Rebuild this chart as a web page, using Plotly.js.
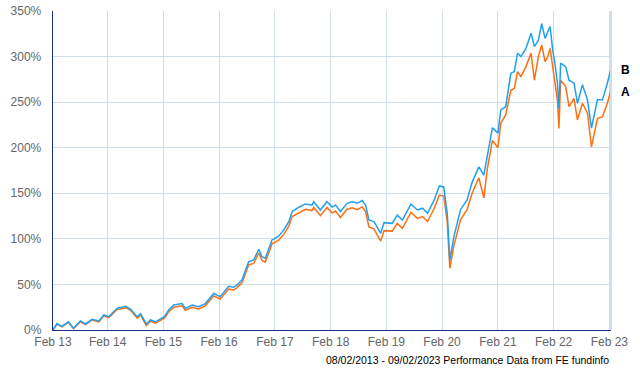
<!DOCTYPE html>
<html>
<head>
<meta charset="utf-8">
<script src="https://cdn.plot.ly/plotly-3.0.1.min.js"></script>
<style>html,body{margin:0;padding:0;background:#fff;}#chart{width:640px;height:370px;}</style>
</head>
<body>
<div id="chart"></div>
<script>
var dates = ["2013-02-08","2013-03-06","2013-04-07","2013-05-20","2013-06-22","2013-08-07","2013-09-09","2013-10-22","2013-12-05","2014-01-07",
"2014-02-08","2014-04-04","2014-05-30","2014-07-02","2014-08-14","2014-09-05","2014-10-12","2014-11-08","2014-12-11","2015-02-08",
"2015-03-08","2015-04-10","2015-06-04","2015-06-25","2015-08-09","2015-09-20","2015-11-03","2015-11-25","2015-12-28","2016-02-08",
"2016-04-04","2016-05-07","2016-05-29","2016-07-01","2016-08-13","2016-09-15","2016-10-18","2016-11-08","2016-11-30","2017-01-13",
"2017-02-26","2017-03-31","2017-05-03","2017-05-25","2017-07-08","2017-08-20","2017-10-02","2017-10-13","2017-11-26","2018-01-08",
"2018-02-10","2018-03-05","2018-04-06","2018-05-20","2018-06-22","2018-07-25","2018-08-27","2018-09-18","2018-10-10","2018-11-12",
"2018-12-26","2019-01-17","2019-03-11","2019-04-14","2019-05-17","2019-07-12","2019-08-24","2019-09-26","2019-10-29","2019-12-12",
"2020-01-14","2020-02-12","2020-03-06","2020-03-23","2020-04-18","2020-06-01","2020-07-14","2020-08-16","2020-09-29","2020-11-01",
"2020-11-23","2020-12-27","2021-02-01","2021-02-20","2021-03-24","2021-04-27","2021-05-19","2021-06-10","2021-07-02","2021-08-04",
"2021-09-06","2021-09-28","2021-10-24","2021-11-15","2021-12-07","2021-12-25","2022-01-09","2022-01-26","2022-02-08","2022-02-26",
"2022-03-08","2022-03-19","2022-04-21","2022-05-13","2022-06-15","2022-07-07","2022-08-09","2022-09-11","2022-10-07","2022-11-15",
"2022-12-18","2023-01-19","2023-02-09"];

var seriesB = [0,7,4,9,2,10,6.6,11.7,10,16.5,
14.6,23.8,26,22.7,14.6,18,6.6,11,9,14.6,
22,27.4,29,23.8,27.4,25.6,29,33,40,36.6,
48,46.9,49.4,55,75,76.8,88.6,80.5,78.7,98.8,
103,109.8,118.9,129.9,134.7,138.3,137,140.8,131.7,140.8,
135,137,130,139,140.8,139,142,137,120.7,119,
106,117.8,117,126,120.7,138,131.7,133.6,128,142.7,
158,157,128,76.8,102,132,142.7,162,179,170,
192,222,216,241.5,245,281.8,283.5,303.7,300,309,
325.7,311,318,336,320,327.5,333,307,294.5,270.8,
243,292.7,289,274,270.8,248.8,269,252.5,221.4,252.5,
252.5,270.8,285];

var seriesA = [0,6.5,3.5,8.5,1.5,9,6,11,9,15.5,
13.5,22.5,24.5,21.5,13,16.5,5,9.5,7.5,13,
20,25,26.5,21.5,25,23,26.5,30.5,37.5,34,
45,44,46.5,52,71.5,73,84.5,76.5,74.5,94.5,
98.5,105,114,124.5,129,132.5,131,134.5,125.5,134.5,
128.5,130.5,123.5,132.5,134,132,135,130,113,111,
97.5,109,108.5,117,111.5,129,122.5,124.5,119,133.5,
148,147,119,67.7,92,121,132,150,167,145,
176,208,200,227,236,263,265,283.5,278,289,
303.7,274,300,312.8,294.5,300,309,289,274,252,
221,274,267,245,254,230.5,248.8,237.9,201,232,
234,248.8,261.6];

var tickDates = ["2013-02-08","2014-02-01","2015-02-01","2016-02-01","2017-02-01","2018-02-01","2019-02-01","2020-02-01","2021-02-01","2022-02-01","2023-02-01"];
var tickLabels = ["Feb 13","Feb 14","Feb 15","Feb 16","Feb 17","Feb 18","Feb 19","Feb 20","Feb 21","Feb 22","Feb 23"];
var yTicks = [0,50,100,150,200,250,300,350];
var yLabels = ["0%","50%","100%","150%","200%","250%","300%","350%"];
var seriesNames = ["A","B"];
var footer = "08/02/2013 - 09/02/2023 Performance Data from FE fundinfo";

var colA = "#ff6f12", colB = "#1fa0f0";
var traces = [
  {x: dates, y: seriesA, type: "scatter", mode: "lines", name: seriesNames[0], line: {color: colA, width: 1.5}},
  {x: dates, y: seriesB, type: "scatter", mode: "lines", name: seriesNames[1], line: {color: colB, width: 1.5}}
];

var lastIdx = dates.length - 1;
var layout = {
  width: 640, height: 370,
  margin: {l: 53, r: 29, t: 11, b: 40},
  paper_bgcolor: "#fff", plot_bgcolor: "#fff",
  showlegend: false,
  font: {family: "Liberation Sans, Arial, sans-serif", size: 12, color: "#666"},
  xaxis: {
    type: "date", range: ["2013-02-08", "2023-02-12"],
    tickvals: tickDates, ticktext: tickLabels,
    showgrid: true, gridcolor: "#d3dfe8", gridwidth: 1,
    showline: true, linecolor: "#1b2d86", linewidth: 1.3,
    ticks: "", zeroline: false,
    tickfont: {size: 12, color: "#666"}
  },
  yaxis: {
    range: [0, 350], tickvals: yTicks, ticktext: yLabels,
    showgrid: true, gridcolor: "#d3dfe8", gridwidth: 1,
    showline: true, linecolor: "#1b2d86", linewidth: 1.3,
    ticks: "", zeroline: false, ticklabelstandoff: 8,
    tickfont: {size: 12, color: "#666"}
  },
  shapes: [
    {type: "line", xref: "paper", yref: "paper", x0: 1, x1: 1, y0: 0, y1: 1, line: {color: "#d3dfe8", width: 2}}
  ],
  annotations: [
    {x: dates[lastIdx], y: seriesB[lastIdx], xref: "x", yref: "y", text: "<b>" + seriesNames[1] + "</b>", showarrow: false, xanchor: "left", xshift: 8, font: {size: 12, color: "#000"}},
    {x: dates[lastIdx], y: seriesA[lastIdx], xref: "x", yref: "y", text: "<b>" + seriesNames[0] + "</b>", showarrow: false, xanchor: "left", xshift: 8, font: {size: 12, color: "#000"}},
    {x: 1, y: -0.094, xref: "paper", yref: "paper", text: footer, showarrow: false, xanchor: "right", yanchor: "middle", font: {size: 10.5, color: "#000"}}
  ]
};
Plotly.newPlot("chart", traces, layout, {displayModeBar: false, staticPlot: true});
</script>
</body>
</html>
